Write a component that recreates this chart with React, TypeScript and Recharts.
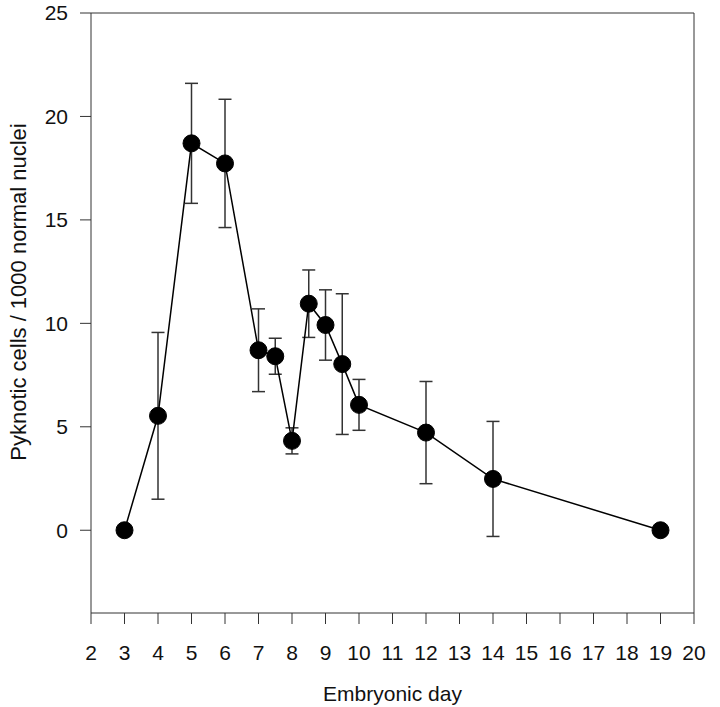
import { LineChart, Line, XAxis, YAxis, ErrorBar, ReferenceLine } from 'recharts';

// embryonic day vs pyknotic cells per 1000 normal nuclei (mean +/- error)
const days = [3, 4, 5, 6, 7, 7.5, 8, 8.5, 9, 9.5, 10, 12, 14, 19];
const pyknotic = [0, 5.53, 18.7, 17.73, 8.7, 8.41, 4.32, 10.95, 9.92, 8.03, 6.06, 4.72, 2.48, 0];
const errors = [0, 4.03, 2.9, 3.1, 2.0, 0.87, 0.63, 1.63, 1.7, 3.4, 1.23, 2.47, 2.78, 0];

const xTicks = [2, 3, 4, 5, 6, 7, 8, 9, 10, 11, 12, 13, 14, 15, 16, 17, 18, 19, 20];
const yTicks = [0, 5, 10, 15, 20, 25];

const data = days.map((d, i) => ({ day: d, value: pyknotic[i], err: errors[i] }));

const font = '"Liberation Sans", Arial, sans-serif';
const axisColor = '#333';

export default function App() {
  return (
    <div style={{ position: 'absolute', left: 0, top: 0, background: '#fff' }}>
      <LineChart
        width={720}
        height={707}
        data={data}
        margin={{ top: 13, right: 26, bottom: 0, left: 0 }}
      >
        <XAxis
          type="number"
          dataKey="day"
          domain={[2, 20]}
          ticks={xTicks}
          interval={0}
          height={94}
          tickSize={11}
          tickMargin={21}
          stroke={axisColor}
          tick={{ fill: '#111', fontSize: 21, fontFamily: font }}
          label={{
            value: 'Embryonic day',
            position: 'center',
            dy: 34,
            style: { fill: '#111', fontSize: 21, fontFamily: font },
          }}
        />
        <YAxis
          type="number"
          domain={[-4, 25]}
          ticks={yTicks}
          allowDataOverflow
          width={91}
          tickSize={11}
          tickMargin={12}
          stroke={axisColor}
          tick={{ fill: '#111', fontSize: 21, fontFamily: font }}
          label={{
            value: 'Pyknotic cells / 1000 normal nuclei',
            angle: -90,
            position: 'center',
            dx: -27,
            dy: -21,
            style: { fill: '#111', fontSize: 22, fontFamily: font, textAnchor: 'middle' },
          }}
        />
        <ReferenceLine y={25} stroke={axisColor} />
        <ReferenceLine x={20} stroke={axisColor} />
        <Line
          dataKey="value"
          stroke="#000"
          strokeWidth={1.5}
          dot={{ r: 8.5, fill: '#000', stroke: '#000', strokeWidth: 1 }}
          isAnimationActive={false}
        >
          <ErrorBar dataKey="err" direction="y" width={6.5} stroke="#333" strokeWidth={1.5} />
        </Line>
      </LineChart>
    </div>
  );
}
